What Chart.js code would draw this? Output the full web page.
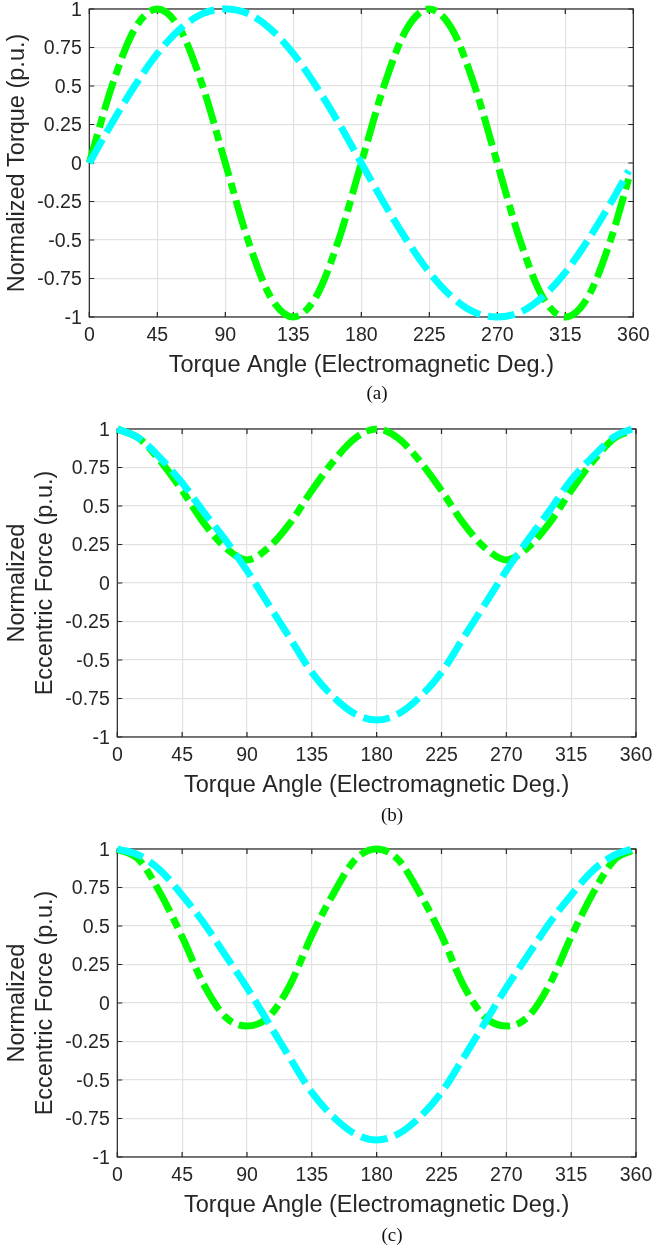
<!DOCTYPE html>
<html>
<head>
<meta charset="utf-8">
<script src="https://cdn.jsdelivr.net/npm/chart.js@4.4.1/dist/chart.umd.min.js"></script>
<style>
  html, body { margin: 0; padding: 0; background: #fff; }
  body { position: relative; width: 652px; height: 1247px; overflow: hidden; }
  canvas { position: absolute; left: 0; }
  .cap { position: absolute; font-family: "Liberation Serif", "Times New Roman", serif; font-size: 19px; color: #111; transform: translate(-50%, -50%); }
</style>
</head>
<body>
<canvas id="chartA" width="700" height="448"></canvas>
<canvas id="chartB" width="700" height="448"></canvas>
<canvas id="chartC" width="700" height="448"></canvas>
<div class="cap" style="left:377px; top:393px;">(a)</div>
<div class="cap" style="left:392px; top:815px;">(b)</div>
<div class="cap" style="left:392px; top:1235px;">(c)</div>
<script>
// Torque angle samples (electromagnetic degrees)
const angles = [0, 15, 30, 45, 60, 75, 90, 105, 120, 135, 150, 165, 180,
  195, 210, 225, 240, 255, 270, 285, 300, 315, 330, 345, 357];

// (a) normalized torque
const torqueGreen = [0, 0.5, 0.87, 1, 0.87, 0.5, 0, -0.5, -0.87, -1, -0.87, -0.5, 0,
  0.5, 0.87, 1, 0.87, 0.5, 0, -0.5, -0.87, -1, -0.87, -0.5, -0.1];
const torqueCyan = [0, 0.26, 0.5, 0.71, 0.87, 0.97, 1, 0.97, 0.87, 0.71, 0.5, 0.26, 0,
  -0.26, -0.5, -0.71, -0.87, -0.97, -1, -0.97, -0.87, -0.71, -0.5, -0.26, -0.05];

// (b) normalized eccentric force
const forceGreenB = [1, 0.94, 0.79, 0.6, 0.39, 0.23, 0.15, 0.23, 0.39, 0.6, 0.79, 0.94, 1,
  0.94, 0.79, 0.6, 0.39, 0.23, 0.15, 0.23, 0.39, 0.6, 0.79, 0.94, 0.99];
const forceCyanB = [1, 0.94, 0.81, 0.65, 0.46, 0.28, 0.08, -0.14, -0.36, -0.58, -0.74, -0.85, -0.89,
  -0.85, -0.74, -0.58, -0.36, -0.14, 0.08, 0.28, 0.47, 0.67, 0.82, 0.95, 1];

// (c) normalized eccentric force
const forceGreenC = [1, 0.93, 0.71, 0.43, 0.12, -0.09, -0.15, -0.09, 0.12, 0.44, 0.71, 0.93, 1,
  0.93, 0.71, 0.44, 0.12, -0.09, -0.15, -0.09, 0.12, 0.43, 0.71, 0.93, 0.99];
const forceCyanC = [1, 0.96, 0.86, 0.7, 0.52, 0.31, 0.1, -0.13, -0.36, -0.58, -0.74, -0.85, -0.89,
  -0.85, -0.74, -0.58, -0.36, -0.13, 0.1, 0.31, 0.52, 0.7, 0.86, 0.96, 1];

// tick labels
const xTickLabels = ["0", "45", "90", "135", "180", "225", "270", "315", "360"];
const yTickLabels = ["-1", "-0.75", "-0.5", "-0.25", "0", "0.25", "0.5", "0.75", "1"];

const textColor = "#262626";
const fontFamily = "'Liberation Sans', Arial, Helvetica, sans-serif";

const toPoints = (ys) => ys.map((v, i) => ({ x: angles[i], y: v }));

// draws the axes box and the inward tick marks (MATLAB style)
const boxPlugin = {
  id: "box",
  beforeDatasetsDraw(chart) {
    const { ctx, chartArea: a, scales } = chart;
    const x = scales.x, y = scales.y;
    ctx.save();
    ctx.strokeStyle = textColor;
    ctx.lineWidth = 1.2;
    ctx.beginPath();
    x.ticks.forEach((t) => {
      const px = x.getPixelForValue(t.value);
      ctx.moveTo(px, a.bottom); ctx.lineTo(px, a.bottom - 5);
      ctx.moveTo(px, a.top); ctx.lineTo(px, a.top + 5);
    });
    y.ticks.forEach((t) => {
      const py = y.getPixelForValue(t.value);
      ctx.moveTo(a.left, py); ctx.lineTo(a.left + 5, py);
      ctx.moveTo(a.right, py); ctx.lineTo(a.right - 5, py);
    });
    ctx.stroke();
    ctx.strokeRect(a.left, a.top, a.right - a.left, a.bottom - a.top);
    ctx.restore();
  }
};

function makeChart(id, plotTop, plotLeft, plotRight, yTitle, green, cyan) {
  const canvas = document.getElementById(id);
  canvas.style.top = (plotTop - 40) + "px";
  new Chart(canvas, {
    type: "line",
    data: {
      datasets: [
        {
          data: toPoints(cyan),
          borderColor: "#00FFFF",
          borderWidth: 7,
          borderDash: [27, 8],
          borderCapStyle: "butt",
          pointRadius: 0,
          cubicInterpolationMode: "monotone",
          clip: 5
        },
        {
          data: toPoints(green),
          borderColor: "#00FF00",
          borderWidth: 7,
          borderDash: [30, 7, 11, 7],
          borderCapStyle: "butt",
          pointRadius: 0,
          cubicInterpolationMode: "monotone",
          clip: 5
        }
      ]
    },
    options: {
      responsive: false,
      animation: false,
      events: [],
      layout: { padding: { top: 40, right: 700 - plotRight, bottom: 0, left: 0 } },
      plugins: { legend: { display: false }, tooltip: { enabled: false } },
      scales: {
        x: {
          type: "linear",
          min: 0,
          max: 360,
          afterBuildTicks: (s) => { s.ticks = xTickLabels.map((l) => ({ value: Number(l) })); },
          afterFit: (s) => { s.height = 100; },
          ticks: {
            padding: 7,
            color: textColor,
            font: { family: fontFamily, size: 19.5 },
            maxRotation: 0,
            callback: (v) => xTickLabels[xTickLabels.indexOf(String(v))]
          },
          grid: { color: "#e2e2e2", lineWidth: 1.2, drawTicks: false },
          border: { display: false },
          title: {
            display: true,
            text: "Torque Angle (Electromagnetic Deg.)",
            color: textColor,
            font: { family: fontFamily, size: 23.5 },
            padding: { top: 0, bottom: 37 }
          }
        },
        y: {
          min: -1,
          max: 1,
          afterBuildTicks: (s) => { s.ticks = yTickLabels.map((l) => ({ value: Number(l) })); },
          afterFit: (s) => { s.width = plotLeft; },
          ticks: {
            padding: 7.5,
            labelOffset: 1.5,
            color: textColor,
            font: { family: fontFamily, size: 19.5 },
            callback: (v) => yTickLabels[yTickLabels.indexOf(String(v))]
          },
          grid: { color: "#e2e2e2", lineWidth: 1.2, drawTicks: false },
          border: { display: false },
          title: {
            display: true,
            text: yTitle,
            color: textColor,
            font: { family: fontFamily, size: 23.5 },
            padding: { top: 3, bottom: 0 }
          }
        }
      }
    },
    plugins: [boxPlugin]
  });
}

makeChart("chartA", 9.3, 89.3, 633.3, "Normalized Torque (p.u.)", torqueGreen, torqueCyan);
makeChart("chartB", 429.3, 117.3, 636, ["Normalized", "Eccentric Force (p.u.)"], forceGreenB, forceCyanB);
makeChart("chartC", 849.3, 117.3, 636, ["Normalized", "Eccentric Force (p.u.)"], forceGreenC, forceCyanC);
</script>
</body>
</html>
